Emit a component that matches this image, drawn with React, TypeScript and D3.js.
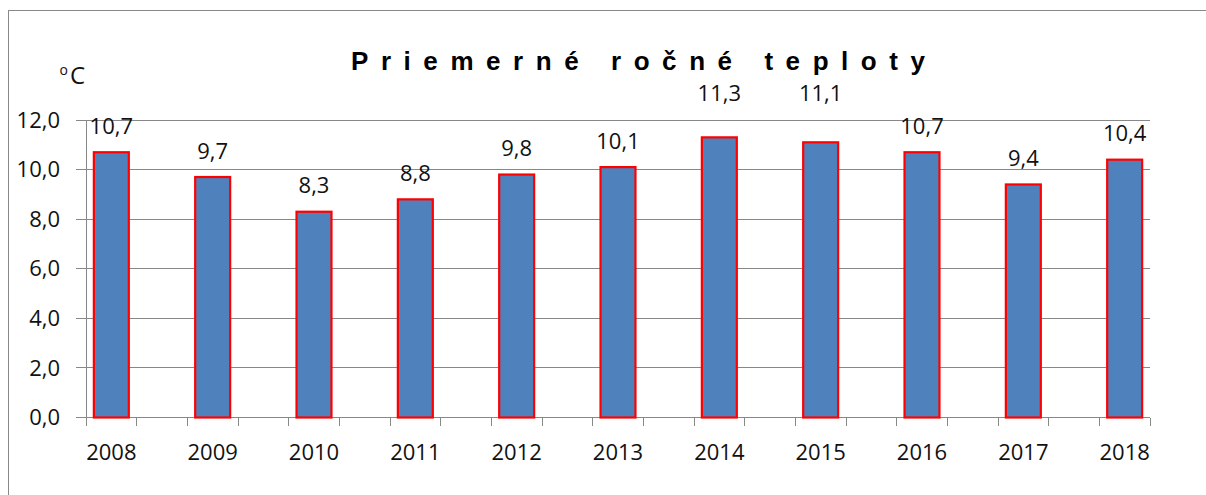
import React from 'react';
import * as d3 from 'd3';

const years = [2008, 2009, 2010, 2011, 2012, 2013, 2014, 2015, 2016, 2017, 2018];
const temps = [10.7, 9.7, 8.3, 8.8, 9.8, 10.1, 11.3, 11.1, 10.7, 9.4, 10.4];
const yTicks = [0, 2, 4, 6, 8, 10, 12];

const W = 1206;
const H = 495;
const margin = { left: 86, right: 1150, top: 120, bottom: 417.5 };
const FONT = '"Open Sans", sans-serif';

export default function App() {
  // category axis: each year takes two tick slots, bar sits in the first half
  const x = d3.scaleLinear().domain([2007.75, 2018.25]).range([margin.left, margin.right]);
  const y = d3.scaleLinear().domain([0, 12]).range([margin.bottom, margin.top]);
  const xTicks = d3.range(0, 22).map(i => 2007.75 + i * 0.5);
  const barW = x(2008.345) - x(2008);

  const fmt = (v: number) => v.toFixed(1).replace('.', ',');
  // labels that would run into the title area sit just above the plot top
  const labelY = (v: number) => (v > 11 ? y(12) - 19 : y(v) - 18.5);

  return (
    <svg width={W} height={H} style={{ position: 'absolute', left: 0, top: 0 }}>
      <rect x={8.5} y={10.5} width={1300} height={600} fill="#fff" stroke="#888" />

      <text
        x={351}
        y={70}
        textLength={574}
        lengthAdjust="spacing"
        fontFamily='"Liberation Sans", Arial, sans-serif'
        fontWeight="bold"
        fontSize={26}
        fill="#000"
      >
        Priemerné ročné teploty
      </text>

      {/* unit: superscript o + C */}
      <text x={59.5} y={75} fontFamily={FONT} fontSize={14} fill="#111">o</text>
      <text x={70} y={83.5} fontFamily={FONT} fontSize={24} fill="#111">C</text>

      {/* gridlines */}
      <g shapeRendering="crispEdges">
        {yTicks.map(t => (
          <line key={t} x1={margin.left - 10} x2={margin.right} y1={y(t)} y2={y(t)} stroke="#888" />
        ))}
        <line x1={margin.left} x2={margin.left} y1={y(12)} y2={y(0)} stroke="#888" />
        {xTicks.map(t => (
          <line key={t} x1={x(t)} x2={x(t)} y1={y(0)} y2={y(0) + 8} stroke="#888" />
        ))}
      </g>

      {yTicks.map(t => (
        <text key={t} x={60} y={y(t) + 7.7} textAnchor="end" fontFamily={FONT} fontSize={22} fill="#111">
          {fmt(t)}
        </text>
      ))}

      {years.map((yr, i) => (
        <g key={yr}>
          <rect
            x={x(yr) - barW / 2}
            y={y(temps[i])}
            width={barW}
            height={y(0) - y(temps[i])}
            fill="#4F81BD"
            stroke="#FF0000"
            strokeWidth={2.2}
          />
          <text x={x(yr)} y={labelY(temps[i])} textAnchor="middle" fontFamily={FONT} fontSize={22} fill="#111">
            {fmt(temps[i])}
          </text>
          <text x={x(yr)} y={459.5} textAnchor="middle" fontFamily={FONT} fontSize={22} fill="#111">
            {yr}
          </text>
        </g>
      ))}
    </svg>
  );
}
